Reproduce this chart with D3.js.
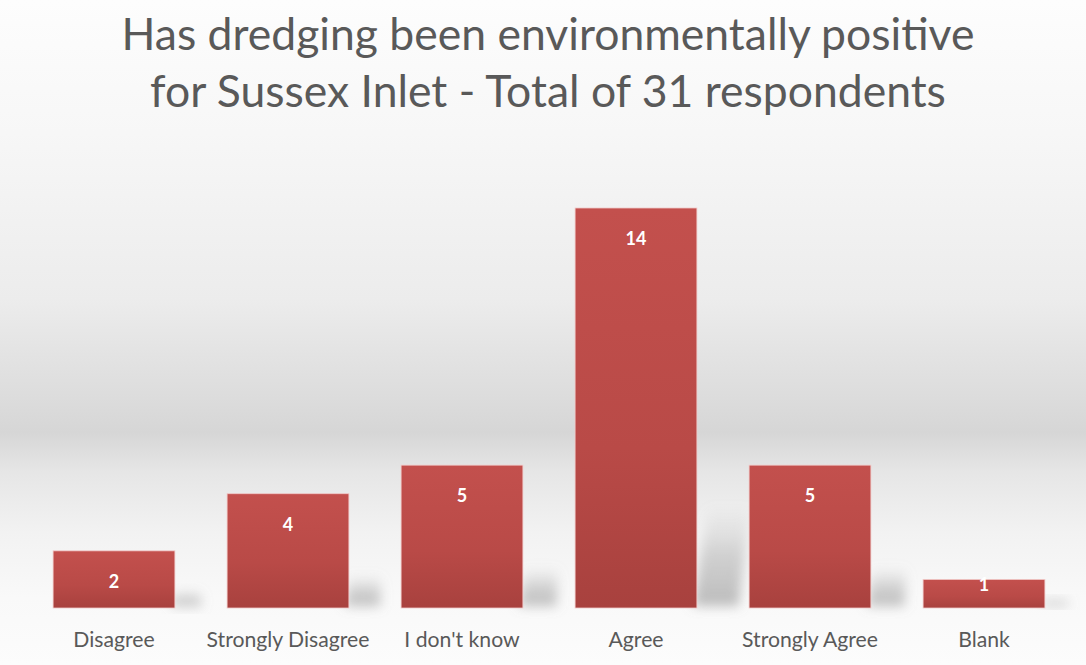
<!DOCTYPE html>
<html>
<head>
<meta charset="utf-8">
<script src="https://cdn.jsdelivr.net/npm/d3@7"></script>
<style>
  html, body { margin: 0; padding: 0; background: #fff; }
  svg { display: block; }
</style>
</head>
<body>
<div id="chart"></div>
<script>
const categories = ["Disagree", "Strongly Disagree", "I don't know", "Agree", "Strongly Agree", "Blank"];
const counts = [2, 4, 5, 14, 5, 1];
const titleLines = ["Has dredging been environmentally positive", "for Sussex Inlet - Total of 31 respondents"];

const W = 1086, H = 665;
const FONT = "Lato, 'Open Sans', 'Liberation Sans', sans-serif";

const svg = d3.select("#chart").append("svg")
  .attr("width", W).attr("height", H)
  .attr("viewBox", `0 0 ${W} ${H}`);

const defs = svg.append("defs");

// background gradient
const bg = defs.append("linearGradient").attr("id", "bgGrad")
  .attr("x1", 0).attr("y1", 0).attr("x2", 0).attr("y2", 1);
[[0, "#fdfdfd"], [0.2, "#f7f7f7"], [0.45, "#ececec"], [0.6, "#dcdcdc"], [0.65, "#d6d6d6"],
 [0.71, "#e6e6e6"], [0.8, "#f2f2f2"], [0.9, "#f9f9f9"], [1, "#fcfcfc"]]
  .forEach(([o, c]) => bg.append("stop").attr("offset", o).attr("stop-color", c));

// bar gradient
const bgBar = defs.append("linearGradient").attr("id", "barGrad")
  .attr("x1", 0).attr("y1", 0).attr("x2", 0).attr("y2", 1);
[[0, "#c3504d"], [0.6, "#b94a47"], [1, "#a8413e"]]
  .forEach(([o, c]) => bgBar.append("stop").attr("offset", o).attr("stop-color", c));

// shadow gradient (fades upward)
const shGrad = defs.append("linearGradient").attr("id", "shadowGrad")
  .attr("x1", 0).attr("y1", 1).attr("x2", 0).attr("y2", 0);
[[0, "#888", 0.55], [0.5, "#999", 0.4], [1, "#aaa", 0]]
  .forEach(([o, c, op]) => shGrad.append("stop").attr("offset", o).attr("stop-color", c).attr("stop-opacity", op));

const blur = defs.append("filter").attr("id", "shadowBlur")
  .attr("x", "-50%").attr("y", "-50%").attr("width", "200%").attr("height", "200%");
blur.append("feGaussianBlur").attr("stdDeviation", 6);

svg.append("rect").attr("width", W).attr("height", H).attr("fill", "url(#bgGrad)");

// title
const title = svg.append("g").attr("fill", "#595959").style("font-family", FONT);
const titleText = title.selectAll("text").data(titleLines).join("text")
  .attr("x", 548)
  .attr("y", (d, i) => 50 + i * 57)
  .attr("text-anchor", "middle")
  .style("font-size", "40px")
  .text(d => d);
const tw = titleText.nodes()[0].getComputedTextLength();
titleText.style("font-size", (40 * 853 / tw) + "px");

// scales
const x = d3.scaleBand().domain(categories).range([27, 1071]).paddingInner(0.3).paddingOuter(0.15);
const y = d3.scaleLinear().domain([0, 14]).range([608, 208]);

const data = categories.map((c, i) => ({ cat: c, v: counts[i] }));

// shadows
svg.append("g").attr("clip-path", null).selectAll("path").data(data).join("path")
  .attr("d", d => {
    const xr = x(d.cat) + x.bandwidth() - 4;
    const b = y(0) - 2;
    const h = y(0) - y(d.v);
    const sh = Math.min(0.27 * h, 100);
    const w = Math.min(0.3 * sh + 22, 42);
    return `M${xr},${b} L${xr + 0.15 * sh},${b - sh} L${xr + 0.15 * sh + w},${b - sh} L${xr + w + 4},${b} Z`;
  })
  .attr("fill", "url(#shadowGrad)")
  .attr("filter", "url(#shadowBlur)");

// bars
svg.append("g").selectAll("rect").data(data).join("rect")
  .attr("x", d => x(d.cat))
  .attr("y", d => y(d.v))
  .attr("width", x.bandwidth())
  .attr("height", d => y(0) - y(d.v))
  .attr("fill", "url(#barGrad)")
  .attr("stroke", "#f1c9c8")
  .attr("stroke-width", 0.8);

// value labels
svg.append("g").selectAll("text").data(data).join("text")
  .attr("x", d => x(d.cat) + x.bandwidth() / 2)
  .attr("y", d => Math.min(y(d.v) + 37, y(0) - 17))
  .attr("text-anchor", "middle")
  .attr("fill", "#ffffff")
  .style("font-family", FONT)
  .style("font-weight", "bold")
  .style("font-size", "18px")
  .text(d => d.v);

// x axis
const axis = svg.append("g").attr("transform", `translate(0,${y(0)})`)
  .call(d3.axisBottom(x).tickSize(0).tickPadding(0));
axis.select(".domain").remove();
const tickText = axis.selectAll("text")
  .attr("y", 39).attr("dy", 0)
  .attr("fill", "#595959")
  .style("font-family", FONT)
  .style("font-size", "20px");
let ref = tickText.filter(d => d === "Strongly Disagree").node().getComputedTextLength();
tickText.style("font-size", (20 * 163 / ref) + "px");
</script>
</body>
</html>
